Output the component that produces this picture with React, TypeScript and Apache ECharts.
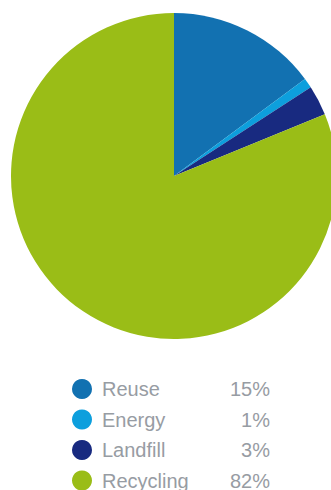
import React, { useEffect, useRef } from "react";
import * as echarts from "echarts";

const categories = ["Reuse", "Energy", "Landfill", "Recycling"];
const values = [15, 1, 3, 82];
const labels = ["15%", "1%", "3%", "82%"];
const colors = ["#1271b1", "#0d9fdd", "#182a80", "#9abd17"];

export default function App() {
  const ref = useRef<HTMLDivElement>(null);
  useEffect(() => {
    document.body.style.margin = "0";
    const chart = echarts.init(ref.current!, undefined, { renderer: "svg" });
    chart.setOption({
      animation: false,
      legend: {
        orient: "vertical",
        left: 72,
        top: 379,
        height: 120,
        padding: 0,
        itemWidth: 20,
        itemHeight: 20,
        itemGap: 10.5,
        icon: "circle",
        data: categories,
        formatter: (name: string) => {
          const i = categories.indexOf(name);
          return `{n|${name}}{p|${labels[i]}}`;
        },
        textStyle: {
          rich: {
            n: { width: 100, fontSize: 20, lineHeight: 20, color: "#979ca3", fontFamily: "Liberation Sans", padding: [0, 0, 0, 5] },
            p: { width: 68, align: "right", fontSize: 20, lineHeight: 20, color: "#979ca3", fontFamily: "Liberation Sans" },
          },
        },
      },
      series: [
        {
          type: "pie",
          center: [174, 176],
          radius: 163,
          startAngle: 90,
          clockwise: true,
          label: { show: false },
          labelLine: { show: false },
          emphasis: { disabled: true },
          itemStyle: { borderWidth: 0 },
          data: categories.map((c, i) => ({ name: c, value: values[i], itemStyle: { color: colors[i] } })),
        },
      ],
    });
    return () => chart.dispose();
  }, []);
  return <div ref={ref} style={{ width: 331, height: 490 }} />;
}
